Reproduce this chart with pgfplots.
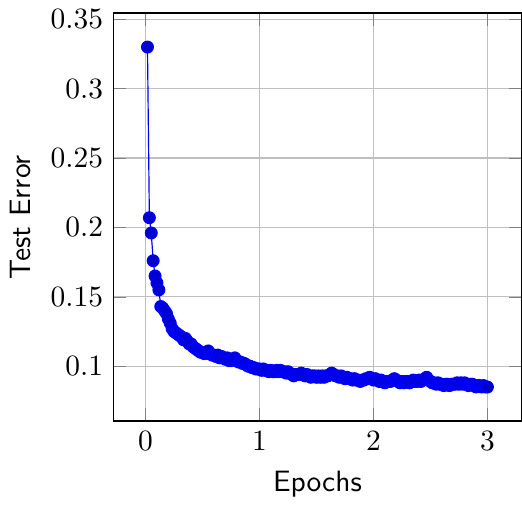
\documentclass[border=0pt]{standalone}
\usepackage{pgfplots}
\pgfplotsset{compat=1.18}

\pgfplotstableread{
x y
0.0167 0.330
0.0333 0.207
0.0500 0.196
0.0667 0.176
0.0833 0.165
0.1000 0.160
0.1167 0.155
0.1333 0.143
0.1500 0.142
0.1667 0.140
0.1833 0.138
0.2000 0.134
0.2167 0.131
0.2333 0.127
0.2500 0.125
0.2667 0.124
0.2833 0.123
0.3000 0.122
0.3167 0.121
0.3333 0.119
0.3500 0.120
0.3667 0.118
0.3833 0.116
0.4000 0.116
0.4167 0.114
0.4333 0.113
0.4500 0.112
0.4667 0.111
0.4833 0.110
0.5000 0.110
0.5167 0.109
0.5333 0.110
0.5500 0.111
0.5667 0.109
0.5833 0.108
0.6000 0.108
0.6167 0.107
0.6333 0.108
0.6500 0.106
0.6667 0.107
0.6833 0.106
0.7000 0.105
0.7167 0.106
0.7333 0.104
0.7500 0.104
0.7667 0.105
0.7833 0.106
0.8000 0.104
0.8167 0.103
0.8333 0.103
0.8500 0.102
0.8667 0.102
0.8833 0.101
0.9000 0.100
0.9167 0.100
0.9333 0.099
0.9500 0.099
0.9667 0.098
0.9833 0.098
1.0000 0.098
1.0167 0.097
1.0333 0.098
1.0500 0.097
1.0667 0.097
1.0833 0.096
1.1000 0.097
1.1167 0.096
1.1333 0.096
1.1500 0.097
1.1667 0.096
1.1833 0.097
1.2000 0.096
1.2167 0.096
1.2333 0.095
1.2500 0.096
1.2667 0.095
1.2833 0.094
1.3000 0.093
1.3167 0.094
1.3333 0.094
1.3500 0.094
1.3667 0.095
1.3833 0.094
1.4000 0.093
1.4167 0.094
1.4333 0.093
1.4500 0.092
1.4667 0.093
1.4833 0.093
1.5000 0.092
1.5167 0.093
1.5333 0.092
1.5500 0.093
1.5667 0.092
1.5833 0.093
1.6000 0.093
1.6167 0.094
1.6333 0.095
1.6500 0.094
1.6667 0.093
1.6833 0.093
1.7000 0.092
1.7167 0.093
1.7333 0.092
1.7500 0.091
1.7667 0.092
1.7833 0.091
1.8000 0.091
1.8167 0.090
1.8333 0.091
1.8500 0.090
1.8667 0.090
1.8833 0.089
1.9000 0.090
1.9167 0.090
1.9333 0.091
1.9500 0.091
1.9667 0.092
1.9833 0.091
2.0000 0.090
2.0167 0.091
2.0333 0.090
2.0500 0.089
2.0667 0.090
2.0833 0.089
2.1000 0.088
2.1167 0.089
2.1333 0.089
2.1500 0.089
2.1667 0.090
2.1833 0.091
2.2000 0.090
2.2167 0.089
2.2333 0.088
2.2500 0.089
2.2667 0.088
2.2833 0.089
2.3000 0.089
2.3167 0.088
2.3333 0.089
2.3500 0.090
2.3667 0.089
2.3833 0.089
2.4000 0.090
2.4167 0.089
2.4333 0.090
2.4500 0.091
2.4667 0.092
2.4833 0.090
2.5000 0.089
2.5167 0.088
2.5333 0.088
2.5500 0.087
2.5667 0.088
2.5833 0.087
2.6000 0.087
2.6167 0.086
2.6333 0.087
2.6500 0.087
2.6667 0.086
2.6833 0.087
2.7000 0.087
2.7167 0.087
2.7333 0.088
2.7500 0.087
2.7667 0.088
2.7833 0.087
2.8000 0.088
2.8167 0.087
2.8333 0.086
2.8500 0.087
2.8667 0.087
2.8833 0.086
2.9000 0.085
2.9167 0.086
2.9333 0.086
2.9500 0.085
2.9667 0.086
2.9833 0.085
3.0000 0.085
}\testerr

\begin{document}
\begin{tikzpicture}
  \begin{axis}[
      scale only axis,
      width=138.5pt,
      height=138.5pt,
      grid=major,
      xtick={0,1,2,3},
      ytick={0.1,0.15,0.2,0.25,0.3,0.35},
      xlabel={\sffamily Epochs},
      ylabel={\sffamily Test Error},
    ]
    \addplot[blue, mark=*, mark options={fill=blue!80!black}] table[x=x, y=y] {\testerr};
  \end{axis}
\end{tikzpicture}
\end{document}
